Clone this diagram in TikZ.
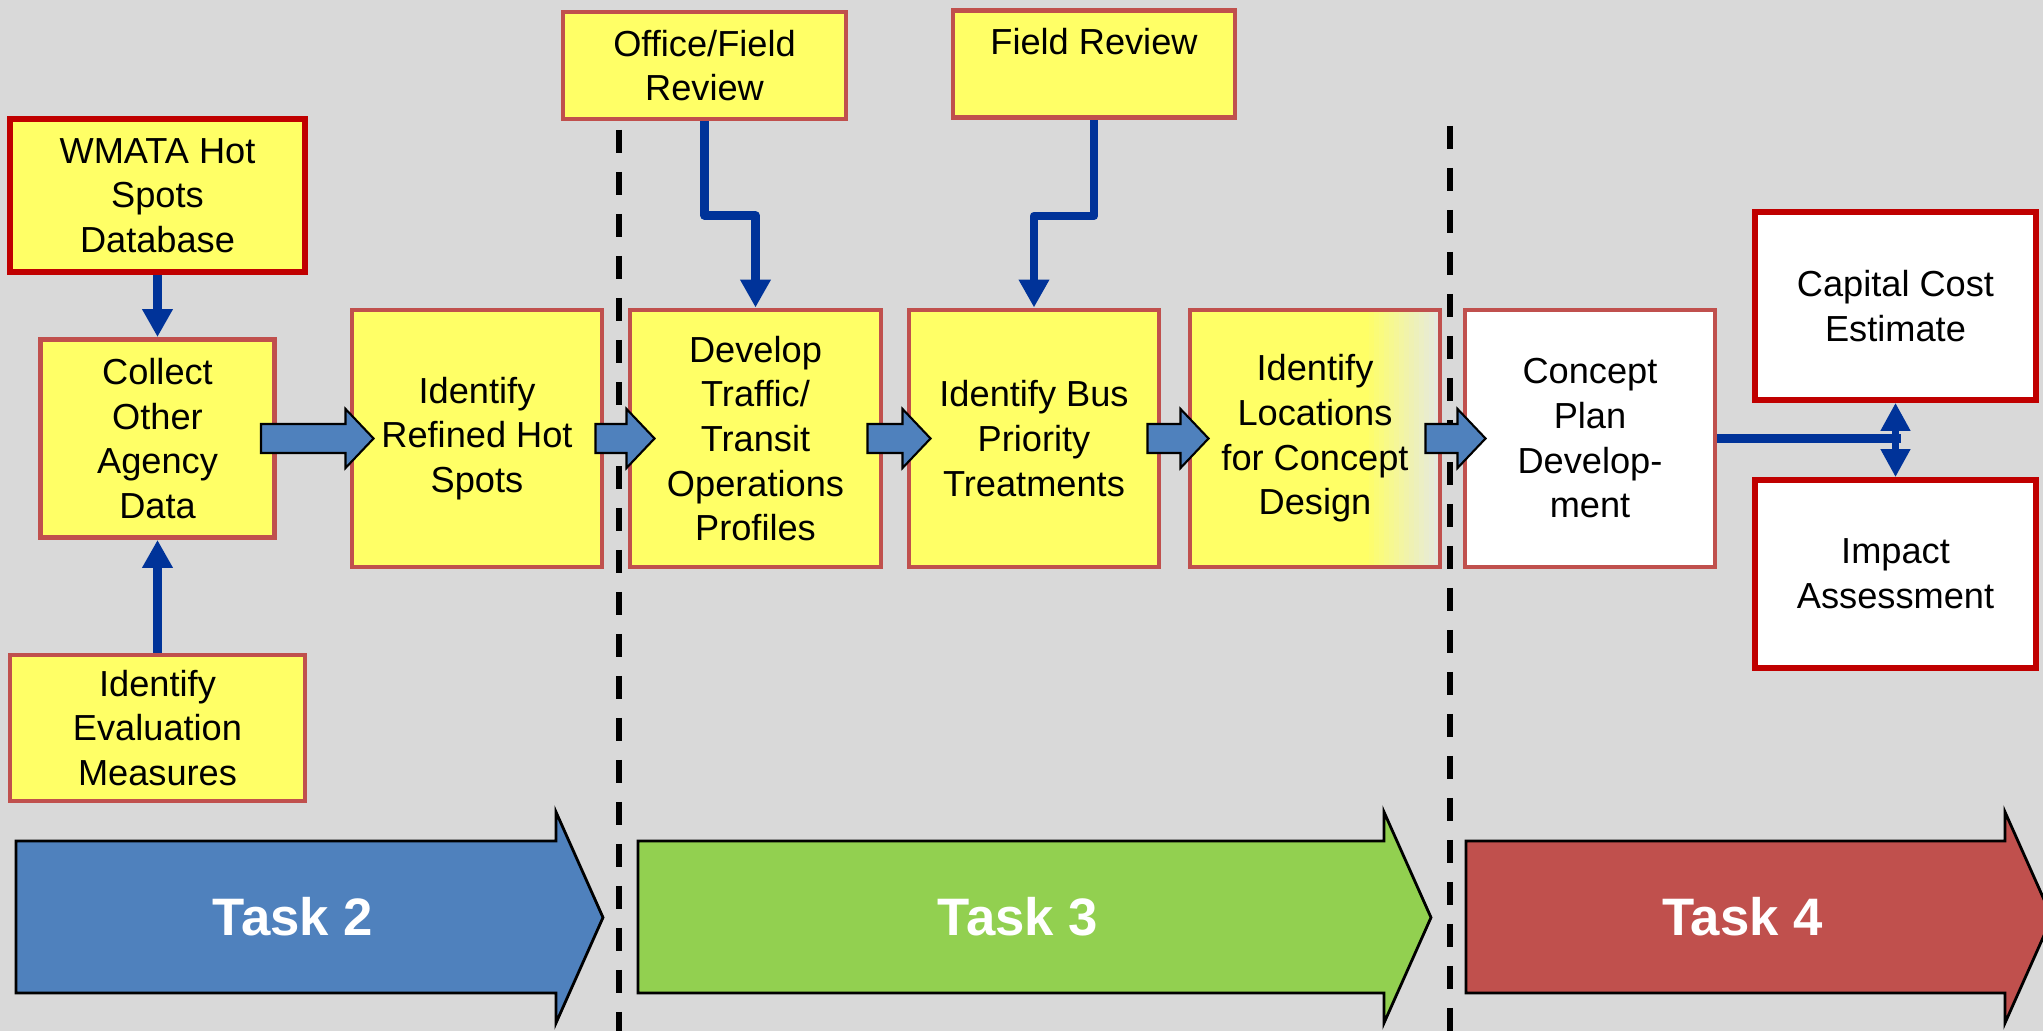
\documentclass[tikz,border=0pt]{standalone}
\usepackage{fontspec}
\setmainfont{Liberation Sans}
\usetikzlibrary{arrows.meta}
\definecolor{bggrey}{HTML}{D9D9D9}
\definecolor{boxyellow}{HTML}{FFFF66}
\definecolor{boxedge}{HTML}{C0504D}
\definecolor{keyedge}{HTML}{C00000}
\definecolor{linkblue}{HTML}{003399}
\definecolor{taskblue}{HTML}{4F81BD}
\definecolor{taskgreen}{HTML}{92D050}
\definecolor{taskred}{HTML}{C0504D}
\definecolor{fadegrey}{HTML}{E6EADE}
\begin{document}
\begin{tikzpicture}[
    box/.style={draw=boxedge, line width=1.4pt, fill=boxyellow, align=center, inner sep=0pt,
        font=\fontsize{10.3}{12.7}\selectfont, minimum width=2.5cm, minimum height=2.57cm},
    keybox/.style={box, draw=keyedge, line width=1.6pt},
    link/.style={draw=linkblue, line width=2.4pt, line join=round, -{Triangle[width=2.9mm,length=2.8mm]}},
    twoway/.style={draw=linkblue, line width=2.2pt, {Triangle[width=2.8mm,length=2.8mm]}-{Triangle[width=2.8mm,length=2.8mm]}},
    flowarrow/.style={draw=black, line width=0.6pt, fill=taskblue},
    taskarrow/.style={draw=black, line width=0.8pt},
    tasklabel/.style={text=white, font=\bfseries\fontsize{15}{18}\selectfont},
    divider/.style={draw=black, line width=1.7pt, dash pattern=on 2.3mm off 1.9mm}
]
    \useasboundingbox (0,0) rectangle (20.43,10.31);
    \fill[bggrey] (0,0) rectangle (20.43,10.31);

    % Task borders
    \draw[divider] (6.19,9.01) -- (6.19,0);
    \draw[divider] (14.50,9.05) -- (14.50,0);

    % Task 2 boxes
    \node[keybox, minimum width=2.95cm, minimum height=1.53cm] (wmata) at (1.575,8.355) {WMATA Hot\\Spots\\Database};
    \node[box, minimum width=2.34cm, minimum height=1.98cm] (collect) at (1.575,5.925) {Collect\\Other\\Agency\\Data};
    \node[box, minimum width=2.95cm, minimum height=1.46cm] (measures) at (1.575,3.03) {Identify\\Evaluation\\Measures};
    \node[box] (refined) at (4.77,5.925) {Identify\\Refined Hot\\Spots};

    % Task 3 boxes
    \node[box, minimum width=2.83cm, minimum height=1.07cm] (office) at (7.045,9.655) {Office/Field\\Review};
    \node[box, minimum width=2.82cm, minimum height=1.07cm] (fieldrev) at (10.94,9.67) {Field Review\\~};
    \node[box, minimum width=2.51cm] (develop) at (7.555,5.925) {Develop\\Traffic/\\Transit\\Operations\\Profiles};
    \node[box] (busprio) at (10.34,5.925) {Identify Bus\\Priority\\Treatments};
    \node[box, path picture={
        \foreach \i [evaluate=\i as \mix using int(100*\i/14)] in {0,...,14}
            \fill[fadegrey!\mix!boxyellow] ([xshift={(-0.76+0.05*\i)*1cm}]path picture bounding box.south east)
                rectangle ([xshift={(-0.70+0.05*\i)*1cm}]path picture bounding box.north east);}]
        (locs) at (13.15,5.925) {Identify\\Locations\\for Concept\\Design};

    % Task 4 boxes
    \node[box, fill=white] (concept) at (15.90,5.925) {Concept\\Plan\\Develop-\\ment};
    \node[keybox, fill=white, minimum width=2.81cm, minimum height=1.88cm] (capital) at (18.955,7.25) {Capital Cost\\Estimate};
    \node[keybox, fill=white, minimum width=2.81cm, minimum height=1.88cm] (impact) at (18.955,4.57) {Impact\\Assessment};

    % Inputs
    \draw[link] (wmata.south) -- (collect.north);
    \draw[link] (measures.north) -- (collect.south);
    \draw[link] (office.south) -- ++(0,-0.94) -| (develop.north);
    \draw[link] (fieldrev.south) -- ++(0,-0.96) -| (busprio.north);
    \draw[link, -, line width=2.8pt] (concept.east) -- ([xshift=0.05cm]concept.east -| capital.south);
    \draw[twoway] (capital.south) -- (impact.north);

    % Flow between steps
    \foreach \from/\to/\back/\into in {collect/refined/-1.6mm/2.4mm, refined/develop/-0.9mm/2.7mm,
        develop/busprio/-1.6mm/2.4mm, busprio/locs/-1.4mm/2.1mm, locs/concept/-1.7mm/2.3mm} {
        \coordinate (s) at ([xshift=\back]\from.east);
        \coordinate (e) at ([xshift=\into]\to.west);
        \draw[flowarrow] ([yshift=1.45mm]s) -- ([xshift=-2.8mm,yshift=1.45mm]e) -- ([xshift=-2.8mm,yshift=2.95mm]e)
            -- (e) -- ([xshift=-2.8mm,yshift=-2.95mm]e) -- ([xshift=-2.8mm,yshift=-1.45mm]e) -- ([yshift=-1.45mm]s) -- cycle;
    }

    % Task arrows
    \foreach \name/\lx/\bx/\col/\lbl in {task2/0.16/5.56/taskblue/Task 2, task3/6.38/13.84/taskgreen/Task 3,
        task4/14.66/20.05/taskred/Task 4} {
        \draw[taskarrow, fill=\col] (\lx,0.38) -- (\bx,0.38) -- (\bx,0.08) -- ({\bx+0.47},1.135)
            -- (\bx,2.19) -- (\bx,1.90) -- (\lx,1.90) -- cycle;
        \node[tasklabel] (\name) at ({(\lx+\bx)/2+0.07},1.14) {\lbl};
    }
\end{tikzpicture}
\end{document}
